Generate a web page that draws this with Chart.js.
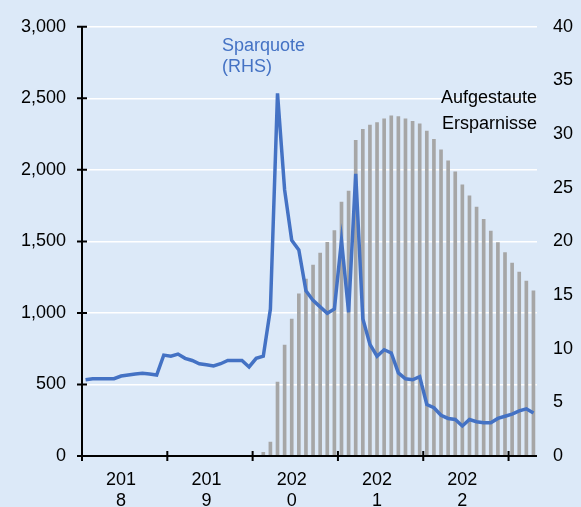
<!DOCTYPE html>
<html>
<head>
<meta charset="utf-8">
<script src="https://cdn.jsdelivr.net/npm/chart.js@4"></script>
<style>
  html, body { margin: 0; padding: 0; background: #dce9f8; }
  #wrap { width: 581px; height: 507px; }
</style>
</head>
<body>
<div id="wrap"><canvas id="chart" width="581" height="507"></canvas></div>
<script>
// Monthly, Jan 2018 .. Apr 2023
const years = ['2018', '2019', '2020', '2021', '2022', '2023'];
const lastYearMonths = 4;

// Sparquote in % (right axis)
const savingsRate = [
  7.1, 7.2, 7.2, 7.2, 7.2, 7.45, 7.55, 7.65, 7.7, 7.65, 7.55, 9.4,
  9.3, 9.5, 9.1, 8.9, 8.6, 8.5, 8.4, 8.6, 8.9, 8.9, 8.9, 8.3,
  9.1, 9.3, 13.7, 33.8, 24.8, 20.1, 19.2, 15.4, 14.5, 13.9, 13.3, 13.7,
  20.1, 13.4, 26.3, 12.8, 10.4, 9.3, 9.9, 9.6, 7.75, 7.2, 7.1, 7.4,
  4.8, 4.5, 3.8, 3.5, 3.4, 2.8, 3.4, 3.2, 3.1, 3.1, 3.5, 3.7,
  3.9, 4.2, 4.4, 4.0
];

// Aufgestaute Ersparnisse (left axis)
const excessSavings = [
  null, null, null, null, null, null, null, null, null, null, null, null,
  null, null, null, null, null, null, null, null, null, null, null, null,
  null, 25, 97, 517, 775, 957, 1134, 1237, 1334, 1418, 1494, 1575,
  1775, 1851, 2207, 2283, 2313, 2331, 2356, 2377, 2372, 2356, 2340, 2322,
  2271, 2214, 2140, 2064, 1986, 1896, 1818, 1740, 1655, 1572, 1492, 1421,
  1349, 1285, 1223, 1154
];

const leftTicks = { min: 0, max: 3000, step: 500 };
const rightTicks = { min: 0, max: 40, step: 5 };

const months = [];
years.forEach((y, yi) => {
  const n = yi === years.length - 1 ? lastYearMonths : 12;
  for (let m = 1; m <= n; m++) months.push(y + '-' + String(m).padStart(2, '0'));
});

const FONT = '"Liberation Sans", Arial, sans-serif';

// axis lines with crossing tick marks + text labels
const axisMarks = {
  id: 'axisMarks',
  afterDatasetsDraw(chart) {
    const { ctx, chartArea: a, scales } = chart;
    const x = scales.x, y = scales.y;
    ctx.save();
    ctx.strokeStyle = '#000';
    ctx.lineWidth = 2;
    ctx.beginPath();
    ctx.moveTo(a.left, a.top);
    ctx.lineTo(a.left, a.bottom);
    ctx.lineTo(a.right, a.bottom);
    y.ticks.forEach(t => {
      const py = y.getPixelForValue(t.value);
      ctx.moveTo(a.left - 5, py);
      ctx.lineTo(a.left + 5, py);
    });
    const half = (x.getPixelForValue(1) - x.getPixelForValue(0)) / 2;
    months.forEach((m, i) => {
      if (m.endsWith('-01')) {
        const px = x.getPixelForValue(i) - half;
        ctx.moveTo(px, a.bottom - 5);
        ctx.lineTo(px, a.bottom + 5);
      }
    });
    ctx.stroke();

    ctx.font = '18px ' + FONT;
    ctx.fillStyle = '#4472c4';
    ctx.textAlign = 'left';
    ctx.fillText('Sparquote', 222, 51);
    ctx.fillText('(RHS)', 222, 72);
    ctx.fillStyle = '#000';
    ctx.textAlign = 'right';
    ctx.fillText('Aufgestaute', 537, 103);
    ctx.fillText('Ersparnisse', 537, 129);
    ctx.restore();
  }
};

new Chart(document.getElementById('chart'), {
  type: 'bar',
  data: {
    labels: months,
    datasets: [
      {
        type: 'line',
        label: 'Sparquote (RHS)',
        data: savingsRate,
        yAxisID: 'y1',
        borderColor: '#4472c4',
        borderWidth: 3.5,
        pointRadius: 0,
        tension: 0,
        order: 0
      },
      {
        type: 'bar',
        label: 'Aufgestaute Ersparnisse',
        data: excessSavings,
        yAxisID: 'y',
        backgroundColor: '#a6a6a6',
        barThickness: 3,
        order: 1
      }
    ]
  },
  options: {
    responsive: false,
    animation: false,
    layout: { padding: { top: 21, left: 0, right: 0, bottom: 0 } },
    plugins: { legend: { display: false }, tooltip: { enabled: false } },
    scales: {
      x: {
        offset: true,
        grid: { display: false, drawTicks: false },
        border: { display: false },
        ticks: {
          autoSkip: false,
          maxRotation: 0,
          padding: 13,
          color: '#000',
          font: { family: FONT, size: 18, lineHeight: 1.18 },
          callback: (v, i) => {
            const m = months[i];
            if (m.endsWith('-06') && months.length - i > 6) {
              const yr = m.slice(0, 4);
              return [yr.slice(0, 3), yr.slice(3)];
            }
            return null;
          }
        },
        afterFit: s => { s.height = 51; }
      },
      y: {
        position: 'left',
        min: leftTicks.min,
        max: leftTicks.max,
        grid: {
          color: c => c.tick.value === 0 ? 'rgba(0,0,0,0)' : '#ffffff',
          lineWidth: 1.5,
          drawTicks: false
        },
        border: { display: false },
        ticks: {
          stepSize: leftTicks.step,
          padding: 16,
          color: '#000',
          font: { family: FONT, size: 18 },
          callback: v => v.toLocaleString('en-US')
        },
        afterFit: s => { s.width = 82; }
      },
      y1: {
        position: 'right',
        min: rightTicks.min,
        max: rightTicks.max,
        grid: { display: false, drawTicks: false },
        border: { display: false },
        ticks: {
          stepSize: rightTicks.step,
          padding: 16,
          color: '#000',
          font: { family: FONT, size: 18 }
        },
        afterFit: s => { s.width = 44; }
      }
    }
  },
  plugins: [axisMarks]
});
</script>
</body>
</html>
